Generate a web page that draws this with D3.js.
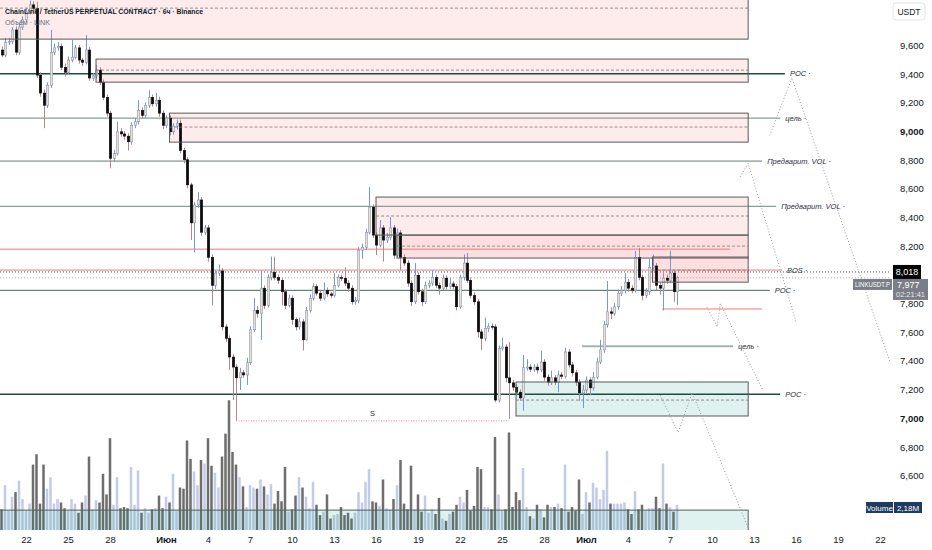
<!DOCTYPE html>
<html>
<head>
<meta charset="utf-8">
<script src="https://cdn.jsdelivr.net/npm/d3@7"></script>
<style>
html, body { margin: 0; padding: 0; background: #fff; }
svg { display: block; font-family: "Liberation Sans Narrow", "Liberation Sans", Arial, sans-serif; }
.axis path, .axis line { display: none; }
.axis text { fill: #131722; font-size: 9.5px; }
.tag { font-style: italic; font-size: 7.5px; fill: #2a2e39; }
</style>
</head>
<body>
<svg width="932" height="550"></svg>
<script>
const width = 932, height = 550;
const plotRight = 890;   // price scale starts here
const paneBottom = 530;  // time scale starts here

// LINKUSDT.P, 6h bars
const startTime = new Date(2024, 4, 20, 6);
const barHours = 6;
const firstOpen = 9565;
const closes = [
  9530,9620,9625,9705,9550,9725,9775,9830,9880,9855,
  9390,9265,9180,9320,9550,9580,9590,9445,9410,9495,
  9515,9580,9495,9480,9565,9370,9385,9425,9340,9235,
  9125,8810,8845,8995,8980,8965,8925,9040,9065,9145,
  9110,9180,9235,9190,9215,9125,9040,9090,8995,9035,
  9055,8865,8800,8625,8360,8485,8520,8295,8325,8120,
  7925,8010,8025,7635,7555,7425,7355,7280,7315,7300,
  7385,7615,7750,7730,7905,7785,7980,8015,7980,7960,
  7880,7785,7835,7685,7635,7670,7545,7750,7835,7915,
  7870,7835,7890,7865,7855,7925,7980,7975,7940,7905,
  7810,7820,8170,8190,8295,8470,8275,8205,8325,8240,
  8260,8325,8135,8290,8120,8080,7940,7810,7995,7880,
  7810,7925,7940,7980,7925,7905,7975,7915,7935,7915,
  7775,7980,8080,7960,7855,7810,7600,7555,7625,7640,
  7635,7125,7485,7495,7280,7245,7215,7180,7140,7350,
  7355,7340,7355,7335,7390,7285,7250,7280,7250,7300,
  7290,7460,7370,7315,7250,7175,7195,7265,7210,7285,
  7390,7475,7650,7740,7730,7775,7870,7890,7945,7905,
  7890,8120,7980,7855,7880,8050,8060,7925,7905,7975,
  7960,8010,7880,7977
];
const highs = [
  9590,9650,9650,9725,9730,9750,9800,9860,9910,9905,
  9900,9410,9290,9340,9705,9610,9620,9610,9470,9520,
  9635,9600,9600,9510,9670,9585,9405,9460,9445,9360,
  9255,9140,8870,9065,9020,9000,8985,9060,9090,9215,
  9165,9200,9285,9255,9265,9240,9145,9110,9110,9055,
  9080,9080,8885,8820,8640,8505,8575,8540,8345,8345,
  8140,8030,8070,8045,7655,7575,7445,7375,7350,7335,
  7420,7640,7835,7780,8030,7925,8000,8125,8125,8000,
  7975,7900,7860,7855,7700,7700,7690,7775,7860,7940,
  7935,7890,7945,7910,7880,8010,8000,8000,8050,7960,
  7925,7845,8190,8215,8320,8610,8490,8295,8380,8345,
  8290,8400,8345,8320,8310,8140,8100,7960,8080,8015,
  7900,7950,7960,8030,8000,7945,8000,7995,7975,7955,
  7935,8000,8140,8150,7980,7875,7830,7620,7700,7660,
  7660,7655,7505,7560,7515,7530,7265,7235,7200,7440,
  7410,7375,7375,7380,7470,7410,7305,7330,7300,7330,
  7320,7490,7480,7390,7335,7270,7230,7290,7285,7320,
  7420,7545,7675,7955,7770,7800,7895,7920,8010,7970,
  7925,8165,8185,8000,7905,8110,8140,8080,7945,8010,
  8000,8165,8030,7990
];
const lows = [
  9515,9515,9600,9605,9530,9530,9705,9760,9815,9830,
  9370,9240,9020,9160,9300,9530,9560,9425,9380,9395,
  9480,9500,9470,9455,9465,9350,9350,9365,9320,9215,
  9100,8740,8790,8830,8960,8940,8865,8905,9020,9045,
  9085,9090,9160,9170,9170,9100,9015,9020,8970,8975,
  9010,8845,8775,8600,8240,8155,8465,8270,8275,8090,
  7785,7900,7990,7610,7530,7335,7125,6980,7195,7280,
  7230,7370,7600,7700,7545,7760,7770,7960,7960,7935,
  7785,7760,7770,7650,7610,7615,7470,7540,7735,7820,
  7850,7815,7820,7845,7835,7840,7910,7955,7920,7880,
  7790,7790,7800,8110,8170,8280,8255,8136,8190,8090,
  8220,8240,8110,8120,8030,8060,7915,7780,7795,7860,
  7780,7795,7905,7920,7905,7860,7890,7895,7900,7895,
  7750,7760,7960,7940,7835,7790,7560,7475,7535,7600,
  7615,7110,7110,7470,7250,6995,7190,7155,7120,7050,
  7330,7320,7320,7310,7320,7260,7225,7230,7230,7180,
  7270,7275,7350,7290,7225,7120,7070,7175,7160,7190,
  7270,7375,7455,7630,7690,7710,7755,7850,7870,7880,
  7870,7875,7960,7820,7835,7860,8035,7890,7860,7750,
  7935,7940,7810,7790
];
// volume, millions
const volumes = [
  1.8,3.9,1.7,2.9,3.3,4.3,2.7,1.7,2.3,5.7,
  6.6,2.3,5.7,3.6,4.6,2.3,2.7,2.4,1.9,1.7,
  2.7,2.3,1.5,2.4,3.0,6.4,1.8,2.6,2.4,4.9,
  3.1,8.0,2.2,4.6,1.9,2.0,1.9,5.5,2.2,5.2,
  1.5,1.9,1.5,1.8,1.9,3.0,1.9,2.9,2.4,4.9,
  1.7,3.7,3.6,7.8,6.2,5.1,3.9,6.1,5.8,8.0,
  5.6,5.0,3.7,6.4,8.4,11.3,6.8,5.7,4.6,3.8,
  2.0,3.9,3.7,3.6,4.4,3.8,3.1,4.0,2.3,3.4,
  2.5,5.5,1.6,1.8,3.0,4.6,3.7,2.9,1.9,4.2,
  2.2,1.3,1.6,3.1,1.0,1.3,1.4,2.0,1.3,1.5,
  1.0,1.5,3.3,2.4,4.2,5.3,2.5,2.4,2.1,4.4,
  1.9,1.8,2.7,3.9,6.1,2.3,1.8,5.6,1.8,3.1,
  1.6,3.0,1.5,1.8,1.4,2.8,1.0,0.8,1.4,1.6,
  2.2,2.9,2.4,3.5,1.7,2.1,5.5,5.3,2.0,2.0,
  1.8,8.1,3.1,1.7,1.8,8.5,2.0,3.3,2.6,5.4,
  2.0,1.2,1.0,2.2,1.8,1.1,2.2,2.0,2.0,2.3,
  1.9,5.7,1.6,2.0,1.7,4.4,1.4,3.3,2.4,4.1,
  3.7,2.7,3.5,6.9,2.3,2.3,2.3,2.3,2.4,1.8,
  1.4,3.4,1.8,2.2,1.7,1.9,1.9,2.9,1.9,5.8,
  2.3,2.0,1.6,2.18
];

// 8,000 sits under the price badge, so it is not printed
const priceTicks = [6600,6800,7000,7200,7400,7600,7800,8200,8400,8600,8800,9000,9200,9400,9600];
const boldPriceTicks = [7000, 9000];
const dateTicks = ["2024-05-22","2024-05-25","2024-05-28","2024-06-01","2024-06-04","2024-06-07",
  "2024-06-10","2024-06-13","2024-06-16","2024-06-19","2024-06-22","2024-06-25","2024-06-28",
  "2024-07-01","2024-07-04","2024-07-07","2024-07-10","2024-07-13","2024-07-16","2024-07-19","2024-07-22"];
const monthNames = {5: "Июн", 6: "Июл"};

const lastPrice = 7977, markPrice = 8018;
const lastVolume = "2,18M";
const countdown = "02:21:41";

// boxes: [from, to, low, high, mid]
const supplyZones = [
  ["2024-05-18T00:00", "2024-07-12T14:00", 9641, 9990, 9857],
  ["2024-05-27T00:00", "2024-07-12T14:00", 9341, 9502, 9425],
  ["2024-06-01T06:00", "2024-07-12T14:00", 8923, 9125, 9028],
  ["2024-06-16T00:00", "2024-07-12T14:00", 8275, 8540, 8408]
];
const strongZones = [
  ["2024-06-17T12:00", "2024-07-12T14:00", 8115, 8275, 8198],
  ["2024-07-05T18:00", "2024-07-12T14:00", 7947, 8122, 8031]
];
const demandZones = [
  ["2024-06-26T00:00", "2024-07-12T14:00", 7014, 7251, 7125],
  ["2024-05-18T00:00", "2024-07-12T14:00", 6100, 6358, null]
];
// horizontal levels: [price, from, to, label, kind]
const levels = [
  [9400, "2024-05-18T00:00", "2024-07-15T05:00", "POC", "poc"],
  [9090, "2024-05-18T00:00", "2024-07-14T21:00", "цель", "target"],
  [8790, "2024-05-18T00:00", "2024-07-13T14:00", "Предварит. VOL", "soft"],
  [8475, "2024-05-18T00:00", "2024-07-14T14:00", "Предварит. VOL", "target"],
  [8177, "2024-05-18T00:00", "2024-07-11T07:00", "", "red"],
  [8031, "2024-05-18T00:00", "2024-07-15T00:00", "BOS", "red"],
  [7890, "2024-05-18T00:00", "2024-07-14T03:00", "POC", "poc2"],
  [7760, "2024-07-06T10:00", "2024-07-13T14:00", "", "red"],
  [7500, "2024-06-30T17:00", "2024-07-11T12:00", "цель", "soft"],
  [7165, "2024-05-18T00:00", "2024-07-14T21:00", "POC", "poc"]
];
// liquidity sweep
const sweep = { from: "2024-06-06T00:00", to: "2024-06-25T12:00", price: 6980, label: "S" };
// projected paths
const projections = [
  [["2024-07-14T03:00", 8970], ["2024-07-15T17:00", 9370], ["2024-07-22T22:00", 7335]],
  [["2024-07-12T00:00", 8680], ["2024-07-12T14:00", 8775], ["2024-07-16T00:00", 7670]],
  [["2024-07-09T15:00", 7775], ["2024-07-10T09:00", 7635], ["2024-07-10T14:00", 7800], ["2024-07-13T15:00", 7195]],
  [["2024-07-06T07:00", 7160], ["2024-07-07T14:00", 6900], ["2024-07-08T14:00", 7175], ["2024-07-12T14:00", 6235]]
];

const bars = closes.map((c, i) => ({
  t: new Date(startTime.getTime() + i * barHours * 3600e3),
  o: i ? closes[i - 1] : firstOpen,
  h: highs[i], l: lows[i], c: c, v: volumes[i]
}));

const x = d3.scaleTime()
  .domain([new Date(2024, 4, 22), new Date(2024, 6, 22)])
  .range([26, 880]);
const y = d3.scaleLinear().domain([7000, 9600]).range([418, 45]);
const yVol = d3.scaleLinear().domain([0, 11.5]).range([paneBottom, 398]);
const bodyW = 2.5;

const svg = d3.select("svg");
svg.append("defs").append("clipPath").attr("id", "plot")
  .append("rect").attr("x", 0).attr("y", 0).attr("width", plotRight).attr("height", paneBottom);

const plot = svg.append("g").attr("clip-path", "url(#plot)");

// volume
plot.append("g").selectAll("rect")
  .data(bars).enter().append("rect")
  .attr("x", d => x(d.t) - bodyW / 2)
  .attr("y", d => yVol(d.v))
  .attr("width", bodyW)
  .attr("height", d => paneBottom - yVol(d.v))
  .attr("fill", d => d.c >= d.o ? "#c3cce6" : "#6e6e6e");

// zone fills
function zoneRect(g, z, fill) {
  g.append("rect")
    .attr("x", x(new Date(z[0]))).attr("y", y(z[3]))
    .attr("width", x(new Date(z[1])) - x(new Date(z[0])))
    .attr("height", y(z[2]) - y(z[3]))
    .attr("fill", fill).attr("stroke", "none");
}
const fills = plot.append("g");
supplyZones.forEach(z => zoneRect(fills, z, "rgba(242,54,69,0.1)"));
strongZones.forEach(z => zoneRect(fills, z, "rgba(242,54,69,0.16)"));
demandZones.forEach(z => zoneRect(fills, z, "rgba(8,153,129,0.13)"));

// level lines
const levelStyle = {
  poc: { stroke: "#1e4a40", w: 1.5 },
  poc2: { stroke: "#46665e", w: 1 },
  target: { stroke: "#86a098", w: 1.3 },
  soft: { stroke: "#a3b5af", w: 1.8 },
  red: { stroke: "#f2777c", w: 1 }
};
const lv = plot.append("g");
levels.forEach(l => {
  const s = levelStyle[l[4]];
  lv.append("line")
    .attr("x1", x(new Date(l[1]))).attr("x2", x(new Date(l[2])))
    .attr("y1", y(l[0])).attr("y2", y(l[0]))
    .attr("stroke", s.stroke).attr("stroke-width", s.w);
  if (l[3]) {
    lv.append("text").attr("class", "tag")
      .attr("x", x(new Date(l[2])) + 5).attr("y", y(l[0]) + 2.5)
      .text(l[3] + " ·");
  }
});

// current price dotted lines
plot.append("line").attr("x1", 0).attr("x2", plotRight)
  .attr("y1", y(markPrice)).attr("y2", y(markPrice))
  .attr("stroke", "#555").attr("stroke-width", 1).attr("stroke-dasharray", "1,2");
plot.append("line").attr("x1", 0).attr("x2", plotRight)
  .attr("y1", y(lastPrice)).attr("y2", y(lastPrice))
  .attr("stroke", "#aaa").attr("stroke-width", 1).attr("stroke-dasharray", "1,2");

// candles
const candle = plot.append("g").selectAll("g")
  .data(bars).enter().append("g");
candle.append("line")
  .attr("x1", d => Math.round(x(d.t)) + 0.5).attr("x2", d => Math.round(x(d.t)) + 0.5)
  .attr("y1", d => y(d.h)).attr("y2", d => y(d.l))
  .attr("stroke", d => d.c >= d.o ? "#6f97ea" : "#b4878c")
  .attr("stroke-width", 1);
candle.append("rect")
  .attr("x", d => Math.round(x(d.t)) + 0.5 - bodyW / 2)
  .attr("y", d => y(Math.max(d.o, d.c)))
  .attr("width", bodyW)
  .attr("height", d => Math.max(1, Math.abs(y(d.o) - y(d.c))))
  .attr("fill", d => d.c >= d.o ? "#e2e2e2" : "#0b0b0b")
  .attr("stroke", d => d.c >= d.o ? "#8c8c8c" : "#0b0b0b")
  .attr("stroke-width", 0.5);

// zone outlines and mid lines on top
function zoneFrame(g, z) {
  const x0 = x(new Date(z[0])), x1 = x(new Date(z[1]));
  g.append("rect")
    .attr("x", x0).attr("y", y(z[3]))
    .attr("width", x1 - x0).attr("height", y(z[2]) - y(z[3]))
    .attr("fill", "none").attr("stroke", "#5a5a5a").attr("stroke-width", 1);
  if (z[4] != null) {
    g.append("line").attr("x1", x0).attr("x2", x1)
      .attr("y1", y(z[4])).attr("y2", y(z[4]))
      .attr("stroke", "#7a7a7a").attr("stroke-width", 0.8).attr("stroke-dasharray", "3,2");
  }
}
const frames = plot.append("g");
supplyZones.concat(strongZones, demandZones).forEach(z => zoneFrame(frames, z));

// sweep
plot.append("line")
  .attr("x1", x(new Date(sweep.from))).attr("x2", x(new Date(sweep.to)))
  .attr("y1", y(sweep.price)).attr("y2", y(sweep.price))
  .attr("stroke", "#e58f94").attr("stroke-width", 1).attr("stroke-dasharray", "1,1.5");
plot.append("text").attr("class", "tag").style("font-style", "normal")
  .attr("x", (x(new Date(sweep.from)) + x(new Date(sweep.to))) / 2)
  .attr("y", y(sweep.price) - 5).attr("text-anchor", "middle").text(sweep.label);

// projections
const path = d3.line().x(p => x(new Date(p[0]))).y(p => y(p[1]));
plot.append("g").selectAll("path")
  .data(projections).enter().append("path")
  .attr("d", path)
  .attr("fill", "none").attr("stroke", "#9a9a9a").attr("stroke-width", 1)
  .attr("stroke-dasharray", "1,2");

// axes
const yAxis = d3.axisRight(y).tickValues(priceTicks).tickSize(0).tickPadding(10)
  .tickFormat(d3.format(","));
svg.append("g").attr("class", "axis").attr("transform", `translate(${plotRight},0)`)
  .call(yAxis)
  .selectAll("text")
  .attr("dy", "0.35em")
  .style("font-weight", d => boldPriceTicks.includes(d) ? "bold" : null);

const xAxis = d3.axisBottom(x).tickValues(dateTicks.map(s => new Date(s + "T00:00")))
  .tickSize(0).tickPadding(6)
  .tickFormat(d => d.getDate() === 1 ? monthNames[d.getMonth()] : d.getDate());
svg.append("g").attr("class", "axis").attr("transform", `translate(0,${paneBottom})`)
  .call(xAxis)
  .selectAll("text")
  .style("font-weight", d => d.getDate() === 1 ? "bold" : null);

// price scale badges
const fmt = d3.format(",");
svg.append("rect").attr("x", 893).attr("y", 3).attr("width", 32).attr("height", 17).attr("rx", 3)
  .attr("fill", "#fff").attr("stroke", "#e0e3eb");
svg.append("text").attr("x", 909).attr("y", 15).attr("text-anchor", "middle")
  .style("font-size", "8.5px").attr("fill", "#131722").text("USDT");

svg.append("rect").attr("x", 893).attr("y", y(markPrice) - 7).attr("width", 28).attr("height", 14)
  .attr("fill", "#000");
svg.append("text").attr("x", 907).attr("y", y(markPrice) + 3.5).attr("text-anchor", "middle")
  .style("font-size", "9px").attr("fill", "#fff").text(fmt(markPrice));

svg.append("rect").attr("x", 893).attr("y", y(markPrice) + 7).attr("width", 35).attr("height", 21)
  .attr("fill", "#7b7e88");
svg.append("text").attr("x", 897).attr("y", y(markPrice) + 16).style("font-size", "9px")
  .attr("fill", "#fff").text(fmt(lastPrice));
svg.append("text").attr("x", 896).attr("y", y(markPrice) + 25.5).style("font-size", "7.5px")
  .attr("textLength", 29).attr("lengthAdjust", "spacingAndGlyphs")
  .attr("fill", "#e8e8ea").text(countdown);
svg.append("rect").attr("x", 853).attr("y", y(markPrice) + 7).attr("width", 39).attr("height", 11)
  .attr("fill", "#7b7e88");
svg.append("text").attr("x", 855).attr("y", y(markPrice) + 15.5)
  .attr("textLength", 35).attr("lengthAdjust", "spacingAndGlyphs")
  .style("font-size", "7.5px").attr("fill", "#fff").text("LINKUSDT.P");

svg.append("rect").attr("x", 866).attr("y", 502).attr("width", 27).attr("height", 11).attr("fill", "#1d3c60");
svg.append("text").attr("x", 879.5).attr("y", 510.5).attr("text-anchor", "middle")
  .style("font-size", "8px").attr("fill", "#fff").text("Volume");
svg.append("rect").attr("x", 894).attr("y", 502).attr("width", 28).attr("height", 11).attr("fill", "#1d3c60");
svg.append("text").attr("x", 908).attr("y", 510.5).attr("text-anchor", "middle")
  .style("font-size", "8px").attr("fill", "#fff").text(lastVolume);

// legend
svg.append("text").attr("x", 5).attr("y", 14).style("font-size", "8px").style("font-weight", "600")
  .attr("textLength", 198).attr("lengthAdjust", "spacingAndGlyphs")
  .attr("fill", "#131722").text("ChainLink / TetherUS PERPETUAL CONTRACT · 6ч · Binance");
svg.append("text").attr("x", 5).attr("y", 25).style("font-size", "8px")
  .attr("textLength", 45).attr("lengthAdjust", "spacingAndGlyphs")
  .attr("fill", "#6a6d78").text("Объём · LINK");
</script>
</body>
</html>
